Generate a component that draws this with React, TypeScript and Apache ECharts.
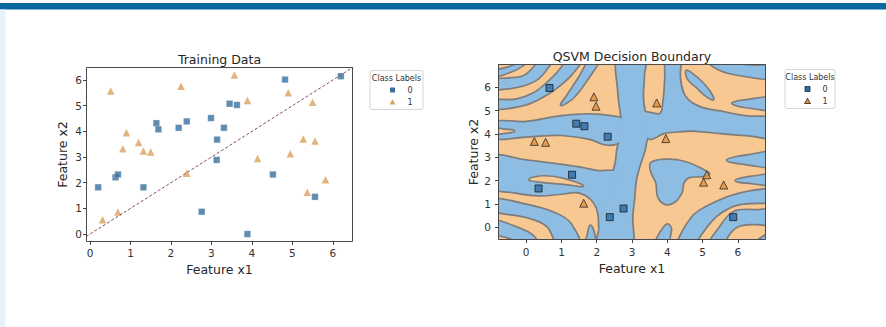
import React, { useEffect, useRef } from "react";
import * as echarts from "echarts";

// ---------- Training data (left panel) ----------
const trainClass0: number[][] = [
  [0.2, 1.82], [0.63, 2.21], [0.69, 2.32], [1.32, 1.82], [1.64, 4.32], [1.69, 4.08],
  [2.19, 4.14], [2.39, 4.39], [2.76, 0.87], [2.99, 4.52], [3.14, 3.68], [3.13, 2.89],
  [3.31, 4.14], [3.45, 5.08], [3.63, 5.03], [3.89, 0.0], [4.52, 2.32], [4.82, 6.02],
  [5.56, 1.45], [6.2, 6.15],
];
const trainClass1: number[][] = [
  [0.51, 5.57], [0.31, 0.56], [0.69, 0.86], [0.81, 3.32], [0.9, 3.95], [1.2, 3.57],
  [1.32, 3.24], [1.5, 3.2], [2.25, 5.76], [2.39, 2.37], [3.57, 6.2], [3.89, 5.2],
  [4.14, 2.94], [4.9, 5.51], [4.95, 3.13], [5.27, 3.7], [5.5, 5.14], [5.56, 3.63],
  [5.37, 1.63], [5.82, 2.12],
];
const diagonal: number[][] = [[-0.31, -0.31], [6.51, 6.51]];

// ---------- Test data (right panel) ----------
const testClass0: number[][] = [
  [0.66, 5.97], [1.42, 4.44], [1.65, 4.33], [2.31, 3.88], [1.3, 2.25], [0.35, 1.66],
  [2.37, 0.43], [2.76, 0.8], [5.87, 0.43],
];
const testClass1: number[][] = [
  [0.23, 3.68], [0.55, 3.64], [1.92, 5.59], [1.98, 5.19], [3.7, 5.33], [3.96, 3.8],
  [5.12, 2.25], [5.03, 1.93], [5.6, 1.81], [1.63, 1.03],
];

// ---------- Decision regions (outlines in data coordinates) ----------
const blueTopLeftCorner = [[-1, 6.5], [-0.5, 6.65], [-0.1, 6.95], [0.2, 7.4], [-1, 7.4]];
const blueUpperBand = [[-1, 5.95], [-0.2, 6.05], [0.3, 6.35], [0.6, 6.85], [0.8, 7.4], [0.45, 7.4], [0.25, 6.9], [-0.1, 6.45], [-1, 6.28]];
const blueMidBand = [[-1, 5.08], [0, 5.28], [0.6, 5.72], [0.95, 6.1], [1.3, 6.6], [1.65, 7.4], [1.3, 7.4], [0.95, 6.72], [0.6, 6.18], [0.2, 5.72], [-0.3, 5.46], [-1, 5.4]];
const blueThinStripe = [[1.9, 7.4], [2.15, 7.4], [1.75, 6.4], [1.35, 5.6], [1.0, 5.25], [1.15, 5.6], [1.5, 6.4]];
const blueLeftArm = [[-1, 4.48], [0, 4.5], [1.0, 4.75], [1.8, 4.82], [2.4, 4.75], [2.8, 4.6], [2.9, 4.2], [2.7, 3.7], [2.3, 3.55], [1.8, 3.8], [1.0, 3.97], [0.5, 3.95], [0.0, 3.9], [-1, 3.85]];
const blueCentral = [[2.62, 7.4], [3.35, 7.4], [3.33, 6.5], [3.3, 5.6], [3.35, 5.0], [3.5, 4.3], [3.4, 3.7], [3.35, 3.3], [3.2, 2.6], [3.1, 2.0], [3.05, 1.2], [3.0, 0.5], [2.95, -1], [2.05, -1], [2.15, 0.3], [2.3, 1.3], [2.45, 2.2], [2.55, 2.8], [2.6, 3.4], [2.75, 4.2], [2.7, 4.8], [2.62, 5.8]];
const blueLowerLeft1 = [[-1, 3.0], [0, 2.85], [0.8, 2.7], [1.5, 2.55], [2.0, 2.4], [2.6, 2.3], [2.3, 1.0], [2.2, -1], [2.1, -1], [2.05, 0.6], [1.85, 1.2], [1.5, 1.5], [1.0, 1.45], [0.35, 1.38], [-0.3, 1.5], [-1, 1.75]];
const blueLowerLeft2 = [[-1, 1.2], [0, 0.95], [0.8, 0.6], [1.25, 0.15], [1.55, -1], [1.0, -1], [0.6, 0.05], [0, 0.45], [-1, 0.75]];
const blueLowerLeft3 = [[-1, 0.3], [-0.4, 0.05], [0.2, -0.4], [0.35, -1], [-0.1, -1], [-0.4, -0.5], [-1, -0.2]];
const blueBottomFinger1 = [[1.65, -1], [1.95, -1], [1.92, -0.3], [1.82, 0.05], [1.75, -0.35]];
const blueUpperRight = [[4.0, 7.4], [4.35, 7.4], [4.35, 6.4], [4.5, 5.6], [4.9, 5.15], [5.5, 4.95], [6.2, 4.75], [7.2, 4.6], [7.2, 3.85], [6.3, 3.95], [5.5, 4.05], [4.8, 4.15], [4.3, 4.12], [3.9, 4.05], [3.5, 3.8], [3.3, 4.2], [3.3, 4.9], [3.8, 4.85], [3.9, 5.4], [3.95, 6.3]];
const blueLensUpper = [[4.55, 6.7], [4.8, 6.45], [5.1, 6.0], [5.3, 5.5], [5.1, 5.65], [4.85, 6.0], [4.6, 6.35]];
const blueStripeUpper = [[4.95, 7.4], [5.45, 7.4], [5.9, 7.05], [6.4, 6.92], [7.2, 6.9], [7.2, 6.4], [6.2, 6.5], [5.5, 6.75]];
const blueFingerRight1 = [[7.2, 5.55], [6.3, 5.45], [5.85, 5.32], [6.3, 5.15], [7.2, 5.05]];
const blueTopRightCorner = [[6.6, 7.4], [7.2, 7.4], [7.2, 7.1], [6.9, 7.15]];
const blueLobe = [[3.55, 2.75], [4.0, 2.88], [4.5, 2.78], [4.95, 2.5], [5.18, 2.28], [4.95, 2.2], [4.6, 2.15], [4.45, 1.9], [4.4, 1.5], [4.2, 1.1], [3.95, 1.0], [3.75, 1.3], [3.7, 1.9], [3.55, 2.4]];
const blueFingerRight2 = [[7.2, 3.2], [6.3, 3.08], [5.7, 2.88], [6.3, 2.7], [7.2, 2.6]];
const blueFingerRight3 = [[7.2, 2.25], [6.4, 2.15], [5.95, 2.0], [6.4, 1.9], [7.2, 1.82]];
const blueLowerRight1 = [[4.25, -1], [4.7, 0.4], [5.3, 1.0], [6.1, 1.45], [7.2, 1.6], [7.2, 1.15], [6.0, 0.98], [5.4, 0.5], [4.95, -0.3], [4.65, -1]];
const blueLowerRight2 = [[5.1, -1], [5.5, 0.0], [5.9, 0.65], [6.5, 0.72], [7.2, 0.7], [7.2, 0.1], [6.5, 0.15], [6.0, 0.05], [5.7, -0.4], [5.55, -1]];
const blueBottomRightCorner = [[6.3, -1], [7.2, -1], [7.2, -0.2], [6.8, -0.35]];
const blueBottomFinger2 = [[3.6, -1], [3.9, -1], [4.1, -0.1], [4.0, 0.1], [3.75, -0.4]];

const orangeCornerStripe = [[-0.9, 6.8], [-0.5, 6.92], [-0.25, 7.1], [-0.12, 7.4], [-0.25, 7.4], [-0.4, 7.18], [-0.6, 7.03], [-0.9, 6.92]];
const orangeArmSliver = [[-1, 4.22], [-0.6, 4.17], [-0.35, 4.13], [-0.6, 4.06], [-1, 4.03]];
const orangeLens = [[0.1, 2.05], [0.5, 2.17], [1.0, 2.08], [1.6, 1.78], [1.0, 1.88], [0.5, 1.95]];

const blueRegions = [
  blueTopLeftCorner, blueUpperBand, blueMidBand, blueThinStripe, blueLeftArm, blueCentral,
  blueLowerLeft1, blueLowerLeft2, blueLowerLeft3, blueBottomFinger1, blueUpperRight,
  blueLensUpper, blueStripeUpper, blueFingerRight1, blueTopRightCorner, blueLobe,
  blueFingerRight2, blueFingerRight3, blueLowerRight1, blueLowerRight2,
  blueBottomRightCorner, blueBottomFinger2,
];
const orangeRegions = [orangeCornerStripe, orangeArmSliver, orangeLens];

const tickValues = [0, 1, 2, 3, 4, 5, 6];

const FONT = "DejaVu Sans";
const BLUE_FILL = "#8dbde3";
const ORANGE_FILL = "#f8c892";
const CONTOUR = "#7d7d7d";

function regionSeries(polys: number[][][], mode: "stroke" | "fill", color: string) {
  return {
    type: "custom",
    xAxisIndex: 1,
    yAxisIndex: 1,
    silent: true,
    clip: true,
    data: polys.map((_, i) => [0, 0, i]),
    renderItem: (params: any, api: any) => {
      const poly = polys[params.dataIndex];
      const pts = poly.map((p) => api.coord(p));
      return {
        type: "polygon",
        shape: { points: pts, smooth: 0.35 },
        style:
          mode === "stroke"
            ? { fill: "none", stroke: CONTOUR, lineWidth: 3.4, lineJoin: "round" }
            : { fill: color, stroke: "none" },
      };
    },
  };
}

function axis(gridIndex: number, min: number, max: number, name: string, nameGap: number, margin: number) {
  return {
    gridIndex,
    type: "value",
    min,
    max,
    name,
    nameLocation: "middle",
    nameGap,
    nameTextStyle: { fontSize: 12.5, color: "#262626", fontFamily: FONT },
    axisLine: { show: false, onZero: false },
    axisTick: { show: true, length: 3, lineStyle: { color: "#444" }, customValues: tickValues },
    axisLabel: { show: true, customValues: tickValues, margin, fontSize: 10.5, color: "#333", fontFamily: FONT },
    splitLine: { show: false },
  };
}

function legendGraphics(x: number, y: number, w: number, edge: boolean, c0: string, c1: string) {
  const cx = x + 22.5;
  return [
    { type: "rect", shape: { x, y, width: w, height: 39, r: 2 }, style: { fill: "rgba(255,255,255,0.9)", stroke: "#d4d4d4", lineWidth: 1 }, z: 100 },
    { type: "text", x: x + w / 2, y: y + 8, style: { text: "Class Labels", fontSize: 8, fontFamily: FONT, fill: "#333", textAlign: "center", textVerticalAlign: "middle" }, z: 101 },
    { type: "rect", shape: { x: cx - 2.5, y: y + 17, width: 5, height: 5 }, style: { fill: c0, stroke: edge ? "#222" : "none", lineWidth: 0.8 }, z: 101 },
    { type: "text", x: x + 40, y: y + 19.5, style: { text: "0", fontSize: 8, fontFamily: FONT, fill: "#333", textAlign: "center", textVerticalAlign: "middle" }, z: 101 },
    { type: "polygon", shape: { points: [[cx, y + 28.8], [cx + 3, y + 34], [cx - 3, y + 34]] }, style: { fill: c1, stroke: edge ? "#222" : "none", lineWidth: 0.8 }, z: 101 },
    { type: "text", x: x + 40, y: y + 31.5, style: { text: "1", fontSize: 8, fontFamily: FONT, fill: "#333", textAlign: "center", textVerticalAlign: "middle" }, z: 101 },
  ];
}

export default function App() {
  const ref = useRef<HTMLDivElement>(null);
  useEffect(() => {
    if (!ref.current) return;
    const chart = echarts.init(ref.current, undefined, { renderer: "svg" });
    const g0 = { left: 86, top: 67, width: 267, height: 175 };
    const g1 = { left: 498, top: 64, width: 268, height: 176 };
    const option: any = {
      animation: false,
      backgroundColor: "#ffffff",
      title: [
        { text: "Training Data", left: g0.left + g0.width / 2, top: 52.5, textAlign: "center", padding: 0, textStyle: { fontSize: 12.5, fontWeight: "normal", color: "#262626", fontFamily: FONT } },
        { text: "QSVM Decision Boundary", left: g1.left + g1.width / 2, top: 49.5, textAlign: "center", padding: 0, textStyle: { fontSize: 12.5, fontWeight: "normal", color: "#262626", fontFamily: FONT } },
      ],
      grid: [
        { ...g0, show: true, backgroundColor: "#ffffff", borderWidth: 0 },
        { ...g1, show: true, backgroundColor: ORANGE_FILL, borderWidth: 0 },
      ],
      xAxis: [
        axis(0, -0.1, 6.5, "Feature x1", 17, 5),
        axis(1, -0.8, 6.8, "Feature x1", 19, 6),
      ],
      yAxis: [
        axis(0, -0.31, 6.51, "Feature x2", 17, 4),
        axis(1, -0.55, 7.0, "Feature x2", 14, 7),
      ],
      series: [
        {
          name: "diagonal", type: "line", xAxisIndex: 0, yAxisIndex: 0, data: diagonal, symbol: "none", clip: true,
          lineStyle: { color: "#8a4a5c", width: 1, type: [3, 2] },
        },
        {
          name: "0", type: "scatter", xAxisIndex: 0, yAxisIndex: 0, data: trainClass0, symbol: "rect", symbolSize: 6.5,
          itemStyle: { color: "#3a6f9f", borderColor: "rgba(255,255,255,0.6)", borderWidth: 0.5 },
        },
        {
          name: "1", type: "scatter", xAxisIndex: 0, yAxisIndex: 0, data: trainClass1, symbol: "triangle", symbolSize: 7.5,
          itemStyle: { color: "#dba15c" },
        },
        regionSeries(blueRegions, "stroke", BLUE_FILL),
        regionSeries(blueRegions, "fill", BLUE_FILL),
        regionSeries(orangeRegions, "stroke", ORANGE_FILL),
        regionSeries(orangeRegions, "fill", ORANGE_FILL),
        {
          name: "0", type: "scatter", xAxisIndex: 1, yAxisIndex: 1, data: testClass0, symbol: "rect", symbolSize: 7,
          itemStyle: { color: "#2d6ca6", borderColor: "#1b1b1b", borderWidth: 1 }, z: 5,
        },
        {
          name: "1", type: "scatter", xAxisIndex: 1, yAxisIndex: 1, data: testClass1, symbol: "triangle", symbolSize: 8,
          itemStyle: { color: "#e48d3a", borderColor: "#2a2a2a", borderWidth: 1 }, z: 5,
        },
      ],
      graphic: [
        { type: "rect", shape: { x: 0, y: 3, width: 886, height: 6.5 }, style: { fill: "#0b67a0" }, z: 100 },
        { type: "rect", shape: { x: 0, y: 9.5, width: 5.5, height: 318 }, style: { fill: "#e6f3fb" }, z: 100 },
        { type: "rect", shape: { x: g0.left + 0.5, y: g0.top + 0.5, width: g0.width - 1, height: g0.height - 1 }, style: { fill: "none", stroke: "#4a4a4a", lineWidth: 1 }, z: 100 },
        { type: "rect", shape: { x: g1.left + 0.5, y: g1.top + 0.5, width: g1.width - 1, height: g1.height - 1 }, style: { fill: "none", stroke: "#4a4a4a", lineWidth: 1 }, z: 100 },
        ...legendGraphics(370, 70.5, 53, false, "#3a6f9f", "#dba15c"),
        ...legendGraphics(785, 69.5, 50, true, "#2d6ca6", "#e48d3a"),
      ],
    };
    chart.setOption(option);
    return () => chart.dispose();
  }, []);
  return <div ref={ref} style={{ position: "absolute", left: 0, top: 0, width: 886, height: 327 }} />;
}
